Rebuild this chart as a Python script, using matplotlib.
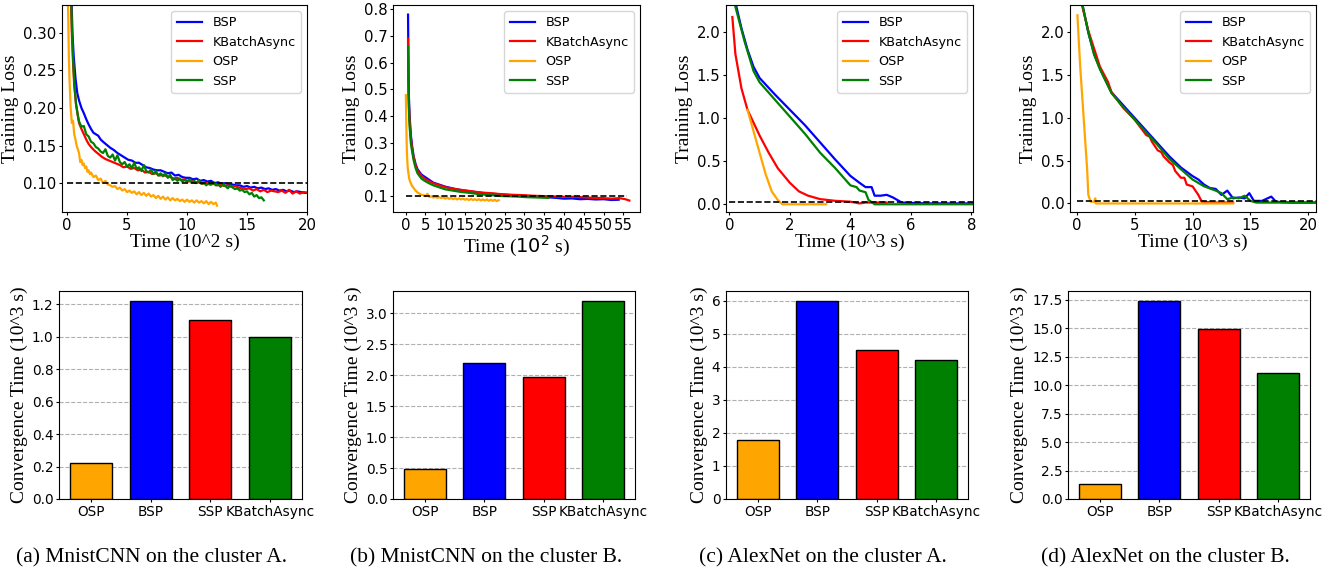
import matplotlib
matplotlib.use("Agg")
import matplotlib.pyplot as plt

# ---------------- data ----------------
labels = ["BSP", "KBatchAsync", "OSP", "SSP"]
colors = {"BSP": "blue", "KBatchAsync": "red", "OSP": "orange", "SSP": "green"}

# (a) MnistCNN cluster A  (time in 10^2 s)
a_bsp_x = [0.35,0.45,0.55,0.7,0.85,1.0,1.2,1.4,1.6,1.8,2.0,2.2,2.4,2.6,2.8,3.0,3.3,3.6,3.9,4.2,4.5,4.8,5.1,5.4,5.7,6.0,6.3,6.6,6.9,7.2,7.5,7.8,8.1,8.4,8.7,9.0,9.3,9.6,9.9,10.2,10.5,10.8,11.1,11.4,11.7,12.0,12.3,12.6,12.9,13.2,13.5,13.8,14.1,14.4,14.7,15.0,15.3,15.6,15.9,16.2,16.5,16.8,17.1,17.4,17.7,18.0,18.3,18.6,18.9,19.2,19.5,19.8,20.1]
a_bsp_y = [0.36,0.30,0.27,0.24,0.22,0.21,0.20,0.193,0.185,0.178,0.172,0.167,0.165,0.163,0.158,0.155,0.151,0.147,0.144,0.140,0.137,0.134,0.131,0.130,0.127,0.127,0.124,0.121,0.120,0.118,0.117,0.117,0.115,0.113,0.114,0.110,0.111,0.108,0.107,0.107,0.105,0.106,0.103,0.104,0.102,0.103,0.100,0.101,0.099,0.100,0.098,0.098,0.097,0.097,0.095,0.096,0.094,0.095,0.093,0.094,0.092,0.093,0.091,0.092,0.090,0.091,0.089,0.090,0.088,0.089,0.088,0.087,0.087]
a_kb_x = [0.3,0.4,0.5,0.6,0.75,0.9,1.0,1.2,1.4,1.6,1.8,2.0,2.3,2.6,2.9,3.2,3.5,3.8,4.1,4.4,4.7,5.0,5.3,5.6,5.9,6.2,6.5,6.8,7.1,7.4,7.7,8.0,8.3,8.6,8.9,9.2,9.5,9.8,10.1,10.4,10.7,11.0,11.3,11.6,11.9,12.2,12.5,12.8,13.1,13.4,13.7,14.0,14.3,14.6,14.9,15.2,15.5,15.8,16.1,16.4,16.7,17.0,17.3,17.6,17.9,18.2,18.5,18.8,19.1,19.4,19.7,20.1]
a_kb_y = [0.36,0.30,0.26,0.23,0.205,0.19,0.18,0.172,0.165,0.158,0.152,0.148,0.143,0.139,0.135,0.132,0.130,0.128,0.126,0.124,0.121,0.122,0.119,0.120,0.117,0.118,0.114,0.115,0.112,0.113,0.110,0.111,0.109,0.108,0.106,0.107,0.104,0.105,0.102,0.103,0.100,0.101,0.099,0.100,0.098,0.099,0.097,0.098,0.096,0.097,0.095,0.096,0.094,0.093,0.092,0.093,0.090,0.092,0.089,0.091,0.088,0.090,0.089,0.088,0.090,0.087,0.091,0.086,0.089,0.086,0.088,0.087]
a_osp_x = [0.05,0.1,0.15,0.2,0.3,0.4,0.5,0.6,0.7,0.8,0.9,1.0,1.1,1.2,1.3,1.4,1.5,1.6,1.7,1.8,1.9,2.0,2.2,2.4,2.6,2.8,3.0,3.2,3.4,3.6,3.8,4.0,4.2,4.4,4.6,4.8,5.0,5.2,5.4,5.6,5.8,6.0,6.2,6.4,6.6,6.8,7.0,7.2,7.4,7.6,7.8,8.0,8.2,8.4,8.6,8.8,9.0,9.2,9.4,9.6,9.8,10.0,10.2,10.4,10.6,10.8,11.0,11.2,11.4,11.6,11.8,12.0,12.2,12.4,12.5]
a_osp_y = [0.36,0.32,0.27,0.24,0.20,0.18,0.183,0.165,0.158,0.150,0.145,0.140,0.128,0.131,0.124,0.126,0.120,0.122,0.115,0.117,0.112,0.114,0.108,0.110,0.104,0.106,0.100,0.103,0.098,0.097,0.095,0.096,0.092,0.094,0.090,0.092,0.088,0.090,0.087,0.089,0.085,0.088,0.084,0.087,0.083,0.086,0.082,0.084,0.080,0.083,0.079,0.082,0.078,0.081,0.077,0.080,0.077,0.079,0.076,0.078,0.075,0.078,0.075,0.077,0.074,0.077,0.074,0.076,0.073,0.076,0.072,0.075,0.072,0.074,0.070]
a_ssp_x = [0.32,0.42,0.52,0.62,0.75,0.9,1.0,1.2,1.4,1.6,1.8,2.0,2.2,2.4,2.6,2.8,3.0,3.2,3.4,3.6,3.8,4.0,4.2,4.4,4.6,4.8,5.0,5.2,5.4,5.6,5.8,6.0,6.2,6.4,6.6,6.8,7.0,7.2,7.4,7.6,7.8,8.0,8.2,8.4,8.6,8.8,9.0,9.2,9.4,9.6,9.8,10.0,10.2,10.4,10.6,10.8,11.0,11.2,11.4,11.6,11.8,12.0,12.2,12.4,12.6,12.8,13.0,13.2,13.4,13.6,13.8,14.0,14.2,14.4,14.6,14.8,15.0,15.2,15.4,15.6,15.8,16.0,16.2,16.4]
a_ssp_y = [0.36,0.30,0.26,0.23,0.205,0.19,0.182,0.175,0.176,0.165,0.162,0.155,0.153,0.148,0.146,0.142,0.140,0.145,0.136,0.134,0.138,0.130,0.137,0.128,0.125,0.128,0.122,0.125,0.120,0.127,0.119,0.121,0.116,0.124,0.116,0.114,0.118,0.112,0.116,0.110,0.113,0.109,0.113,0.107,0.111,0.104,0.106,0.103,0.106,0.102,0.104,0.102,0.105,0.101,0.103,0.100,0.104,0.099,0.101,0.097,0.100,0.098,0.101,0.097,0.098,0.095,0.099,0.096,0.093,0.097,0.094,0.092,0.093,0.090,0.091,0.088,0.089,0.085,0.087,0.082,0.084,0.080,0.081,0.077]

# (b) MnistCNN cluster B (time in 10^2 s)
b_bsp_x = [0.6,0.7,0.8,1.0,1.3,1.6,2.0,2.5,3.0,3.5,4.0,5.0,6.0,7.0,8.0,9.0,10,12,14,16,18,20,22,24,26,28,30,32,34,36,38,40,42,44,46,48,50,52,53.8]
b_bsp_y = [0.78,0.60,0.48,0.40,0.33,0.29,0.25,0.22,0.20,0.19,0.18,0.17,0.16,0.15,0.145,0.14,0.135,0.128,0.122,0.118,0.114,0.110,0.108,0.106,0.104,0.102,0.100,0.099,0.097,0.095,0.093,0.090,0.091,0.088,0.089,0.087,0.088,0.085,0.086]
b_kb_x = [0.6,0.7,0.8,1.0,1.3,1.6,2.0,2.5,3.0,3.5,4.0,5.0,6.0,7.0,8.0,9.0,10,12,14,16,18,20,22,24,26,28,30,32,34,36,38,40,42,44,46,48,50,52,54,55.5,56.5]
b_kb_y = [0.69,0.55,0.45,0.38,0.32,0.28,0.245,0.215,0.195,0.185,0.175,0.163,0.155,0.148,0.143,0.138,0.133,0.127,0.123,0.119,0.115,0.112,0.110,0.107,0.105,0.104,0.103,0.101,0.100,0.099,0.098,0.097,0.097,0.096,0.094,0.093,0.092,0.090,0.092,0.088,0.083]
b_osp_x = [0.05,0.15,0.25,0.35,0.5,0.7,0.9,1.1,1.3,1.6,2.0,2.4,2.8,3.2,3.6,4.0,4.5,5.0,5.5,6.0,6.5,7.0,7.5,8.0,8.5,9.0,9.5,10,10.5,11,11.5,12,12.5,13,13.5,14,14.5,15,15.5,16,16.5,17,17.5,18,18.5,19,19.5,20,20.5,21,21.5,22,22.5,23,23.5]
b_osp_y = [0.478,0.38,0.30,0.25,0.21,0.185,0.165,0.155,0.148,0.138,0.130,0.122,0.116,0.111,0.108,0.104,0.103,0.099,0.108,0.096,0.099,0.094,0.097,0.093,0.096,0.092,0.095,0.090,0.094,0.089,0.093,0.088,0.092,0.087,0.091,0.087,0.090,0.086,0.089,0.085,0.089,0.085,0.088,0.084,0.088,0.083,0.087,0.083,0.087,0.082,0.086,0.082,0.086,0.081,0.084]
b_ssp_x = [0.6,0.7,0.8,1.0,1.3,1.6,2.0,2.5,3.0,3.5,4.0,5.0,6.0,7.0,8.0,9.0,10,12,14,16,18,20,22,24,26,28,30,32,34,36]
b_ssp_y = [0.66,0.52,0.43,0.36,0.30,0.27,0.235,0.205,0.185,0.175,0.165,0.155,0.147,0.140,0.135,0.130,0.125,0.120,0.115,0.112,0.108,0.105,0.103,0.100,0.099,0.098,0.096,0.095,0.094,0.093]

# (c) AlexNet cluster A (time in 10^3 s)
c_bsp_x = [0.2,0.4,0.6,0.8,1.0,1.5,2.0,2.5,3.0,3.5,4.0,4.3,4.5,4.7,4.8,5.0,5.2,5.4,5.7,6.5,8.1]
c_bsp_y = [2.35,2.05,1.80,1.60,1.47,1.28,1.10,0.92,0.72,0.52,0.33,0.25,0.20,0.20,0.10,0.10,0.11,0.08,0.02,0.01,0.01]
c_kb_x = [0.1,0.2,0.4,0.6,0.8,1.0,1.3,1.6,2.0,2.3,2.6,3.0,3.5,4.0,4.3,4.5,5.0,5.2]
c_kb_y = [2.18,1.75,1.35,1.10,0.95,0.80,0.60,0.42,0.25,0.15,0.10,0.06,0.04,0.03,0.01,0.02,0.02,0.02]
c_osp_x = [0.6,0.8,1.0,1.2,1.4,1.6,1.75,2.5,3.2]
c_osp_y = [1.10,0.85,0.60,0.35,0.15,0.05,0.0,0.0,0.0]
c_ssp_x = [0.2,0.5,0.8,1.0,1.5,2.0,2.5,3.0,3.5,3.8,4.0,4.2,4.3,4.5,4.6,4.8,6.0,8.1]
c_ssp_y = [2.30,1.90,1.55,1.42,1.22,1.02,0.82,0.60,0.42,0.30,0.22,0.20,0.16,0.14,0.05,0.0,0.0,0.0]

# (d) AlexNet cluster B (time in 10^3 s)
d_bsp_x = [0.45,1.0,1.5,2.0,3.0,4.0,5.0,6.0,7.0,8.0,9.0,10.0,10.5,11.0,11.5,12.0,12.5,13.0,13.5,14.0,14.5,14.9,15.3,16.0,16.8,17.2,18.5,20.7]
d_bsp_y = [2.35,2.00,1.75,1.58,1.30,1.15,1.00,0.85,0.70,0.55,0.42,0.32,0.28,0.22,0.18,0.17,0.10,0.15,0.06,0.07,0.06,0.12,0.03,0.03,0.08,0.02,0.01,0.01]
d_kb_x = [0.4,1.0,2.0,2.7,3.0,4.0,5.0,6.0,6.3,6.5,7.0,7.3,7.5,8.0,8.3,8.5,9.0,9.3,9.5,10.0,10.5,10.8,12.0,13.5]
d_kb_y = [2.35,2.02,1.60,1.42,1.30,1.12,0.98,0.80,0.78,0.72,0.62,0.60,0.55,0.48,0.45,0.38,0.30,0.30,0.22,0.20,0.10,0.02,0.01,0.01]
d_osp_x = [0.06,0.3,0.6,0.9,1.0,1.2,1.5,1.6,1.65,5.0,13.5]
d_osp_y = [2.20,1.60,1.00,0.40,0.10,0.02,0.02,0.06,0.0,0.0,0.0]
d_ssp_x = [0.45,1.0,1.5,2.0,3.0,4.0,5.0,6.0,7.0,8.0,9.0,10.0,11.0,12.0,12.5,13.0,13.5,14.0,14.5,15.0,15.5,18.0,20.7]
d_ssp_y = [2.35,2.00,1.74,1.57,1.29,1.13,0.98,0.83,0.68,0.52,0.40,0.28,0.20,0.15,0.12,0.05,0.07,0.06,0.09,0.03,0.01,0.01,0.01]

# convergence times (10^3 s)
bar_labels = ["OSP", "BSP", "SSP", "KBatchAsync"]
bar_colors = ["orange", "blue", "red", "green"]
conv_a = [0.22, 1.22, 1.10, 1.00]
conv_b = [0.49, 2.20, 1.97, 3.20]
conv_c = [1.80, 6.00, 4.50, 4.20]
conv_d = [1.30, 17.40, 14.90, 11.10]

captions = ["(a) MnistCNN on the cluster A.", "(b) MnistCNN on the cluster B.",
            "(c) AlexNet on the cluster A.", "(d) AlexNet on the cluster B."]

# ---------------- figure ----------------
SERIF = "Liberation Serif"
W, H = 1336, 576
fig = plt.figure(figsize=(W / 100, H / 100), dpi=100)

def rect(l, t, r, b):
    return [l / W, 1 - b / H, (r - l) / W, (b - t) / H]

top_rects = [rect(62, 5, 307, 212), rect(393, 5, 640, 212),
             rect(726, 5, 973, 212), rect(1070, 5, 1316, 212)]
bot_rects = [rect(59, 291, 302, 499), rect(393, 291, 635, 499),
             rect(726, 291, 968, 499), rect(1068, 291, 1310, 499)]

top_data = [
    dict(series={"BSP": (a_bsp_x, a_bsp_y), "KBatchAsync": (a_kb_x, a_kb_y),
                 "OSP": (a_osp_x, a_osp_y), "SSP": (a_ssp_x, a_ssp_y)},
         thr=0.10, thr_x=(0, 20), xlim=(-0.42, 20), ylim=(0.0615, 0.337),
         xticks=[0, 5, 10, 15, 20], yticks=[0.10, 0.15, 0.20, 0.25, 0.30], yfmt="{:.2f}",
         xlabel="Time (10^2 s)"),
    dict(series={"BSP": (b_bsp_x, b_bsp_y), "KBatchAsync": (b_kb_x, b_kb_y),
                 "OSP": (b_osp_x, b_osp_y), "SSP": (b_ssp_x, b_ssp_y)},
         thr=0.10, thr_x=(0, 56), xlim=(-3.2, 59.2), ylim=(0.04, 0.816),
         xticks=list(range(0, 56, 5)), yticks=[0.1, 0.2, 0.3, 0.4, 0.5, 0.6, 0.7, 0.8], yfmt="{:.1f}",
         xlabel=r"Time ($10^2$ s)"),
    dict(series={"BSP": (c_bsp_x, c_bsp_y), "KBatchAsync": (c_kb_x, c_kb_y),
                 "OSP": (c_osp_x, c_osp_y), "SSP": (c_ssp_x, c_ssp_y)},
         thr=0.025, thr_x=(0, 8.05), xlim=(-0.11, 8.05), ylim=(-0.09, 2.32),
         xticks=[0, 2, 4, 6, 8], yticks=[0.0, 0.5, 1.0, 1.5, 2.0], yfmt="{:.1f}",
         xlabel="Time (10^3 s)"),
    dict(series={"BSP": (d_bsp_x, d_bsp_y), "KBatchAsync": (d_kb_x, d_kb_y),
                 "OSP": (d_osp_x, d_osp_y), "SSP": (d_ssp_x, d_ssp_y)},
         thr=0.025, thr_x=(0, 20.66), xlim=(-0.58, 20.66), ylim=(-0.1, 2.32),
         xticks=[0, 5, 10, 15, 20], yticks=[0.0, 0.5, 1.0, 1.5, 2.0], yfmt="{:.1f}",
         xlabel="Time (10^3 s)"),
]

for r, d in zip(top_rects, top_data):
    ax = fig.add_axes(r)
    for name in labels:
        xs, ys = d["series"][name]
        ax.plot(xs, ys, color=colors[name], lw=1.6, label=name)
    ax.plot(list(d["thr_x"]), [d["thr"], d["thr"]], color="black", ls="--", lw=1.2)
    ax.set_xlim(*d["xlim"])
    ax.set_ylim(*d["ylim"])
    ax.set_xticks(d["xticks"])
    ax.set_yticks(d["yticks"])
    ax.set_yticklabels([d["yfmt"].format(v) for v in d["yticks"]])
    ax.tick_params(labelsize=10.7, length=2.5, pad=1.5)
    ax.set_ylabel("Training Loss", fontfamily=SERIF, fontsize=14, labelpad=3)
    ax.set_xlabel(d["xlabel"], fontfamily=SERIF, fontsize=14, labelpad=1)
    ax.legend(loc="upper right", fontsize=9.2)

bars = [conv_a, conv_b, conv_c, conv_d]
bar_yticks = [
    ([0.0, 0.2, 0.4, 0.6, 0.8, 1.0, 1.2], "{:.1f}"),
    ([0.0, 0.5, 1.0, 1.5, 2.0, 2.5, 3.0], "{:.1f}"),
    ([0, 1, 2, 3, 4, 5, 6], "{:d}"),
    ([0.0, 2.5, 5.0, 7.5, 10.0, 12.5, 15.0, 17.5], "{:.1f}"),
]
for r, vals, (yt, fmt) in zip(bot_rects, bars, bar_yticks):
    ax = fig.add_axes(r)
    ax.set_axisbelow(True)
    ax.grid(axis="y", ls="--", color="#b0b0b0", lw=0.8)
    pos = list(range(len(bar_labels)))
    ax.bar(pos, vals, width=0.7, color=bar_colors, edgecolor="black", lw=1.0)
    ax.set_xticks(pos)
    ax.set_xticklabels(bar_labels)
    ax.set_yticks(yt)
    ax.set_yticklabels([fmt.format(v) for v in yt])
    ax.tick_params(labelsize=9.8, length=2.5, pad=1.5)
    ax.set_ylabel("Convergence Time (10^3 s)", fontfamily=SERIF, fontsize=14, labelpad=3)

cap_x = [152, 486, 823, 1165]
for cx, cap in zip(cap_x, captions):
    fig.text(cx / W, 1 - 558 / H, cap, ha="center", va="center",
             fontfamily=SERIF, fontsize=15.5)

fig.savefig("out.png", dpi=100)
